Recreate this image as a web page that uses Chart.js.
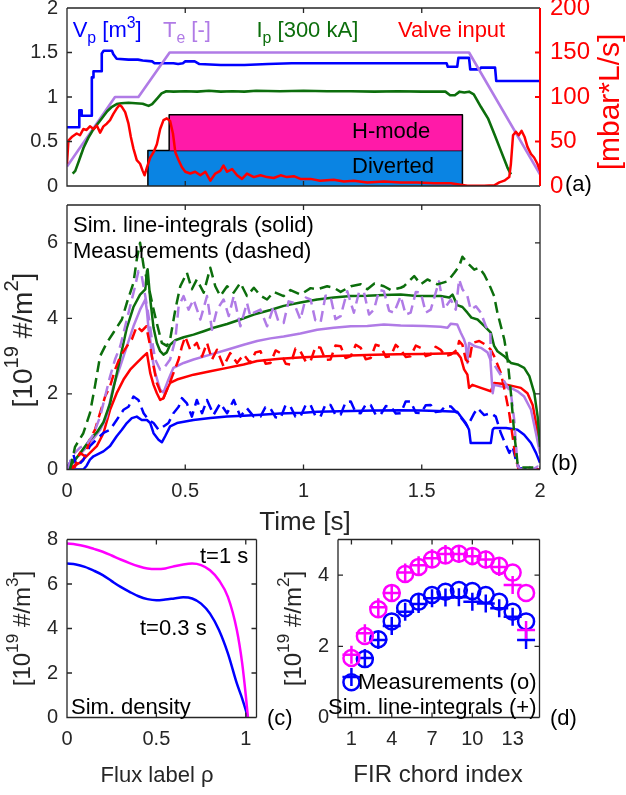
<!DOCTYPE html>
<html><head><meta charset="utf-8">
<script src="https://cdn.jsdelivr.net/npm/chart.js@4.4.1/dist/chart.umd.min.js"></script>
<style>
html,body{margin:0;padding:0;background:#fff;}
#wrap{position:relative;width:626px;height:795px;overflow:hidden;background:#fff;}
canvas{position:absolute;}
</style></head><body>
<div id="wrap">
<canvas id="ca" width="626" height="200" style="left:0;top:0"></canvas>
<canvas id="cb" width="626" height="345" style="left:0;top:195px"></canvas>
<canvas id="cc" width="300" height="275" style="left:0;top:520px"></canvas>
<canvas id="cd" width="356" height="275" style="left:270px;top:520px"></canvas>
</div>
<script>
// ---------------- DATA ----------------
// Panel (a): [time s, value]
const timeTicks = [0, 0.5, 1, 1.5, 2];
const leftTicksA = [0, 0.5, 1, 1.5, 2];
const valveTicks = [0, 50, 100, 150, 200];
const plasmaVolume = [[0,0.66],[0.052,0.66],[0.052,0.85],[0.062,0.85],[0.062,0.79],[0.105,0.79],[0.105,1.22],[0.112,1.22],[0.112,1.29],[0.147,1.29],[0.147,1.49],[0.155,1.52],[0.19,1.52],[0.196,1.48],[0.21,1.43],[0.26,1.42],[0.30,1.42],[0.32,1.41],[0.36,1.40],[0.37,1.38],[0.45,1.38],[0.47,1.37],[0.49,1.38],[0.50,1.40],[0.54,1.40],[0.56,1.37],[0.65,1.36],[0.75,1.36],[0.85,1.37],[0.95,1.38],[1.05,1.38],[1.15,1.38],[1.25,1.38],[1.35,1.38],[1.45,1.38],[1.55,1.38],[1.605,1.38],[1.61,1.34],[1.65,1.34],[1.655,1.44],[1.70,1.44],[1.705,1.31],[1.745,1.31],[1.75,1.33],[1.81,1.33],[1.815,1.18],[2.0,1.18]];
const electronTemp = [[0,0.22],[0.203,1.0],[0.302,1.0],[0.434,1.5],[1.70,1.5],[2.0,0.13]];
const plasmaCurrent = [[0.024,0.14],[0.035,0.17],[0.05,0.28],[0.07,0.43],[0.09,0.54],[0.11,0.63],[0.13,0.70],[0.15,0.77],[0.17,0.84],[0.19,0.89],[0.21,0.92],[0.23,0.93],[0.26,0.935],[0.29,0.93],[0.32,0.925],[0.345,0.90],[0.36,0.92],[0.38,0.98],[0.40,1.04],[0.42,1.065],[0.45,1.06],[0.50,1.065],[0.55,1.06],[0.60,1.07],[0.65,1.06],[0.70,1.065],[0.75,1.06],[0.80,1.07],[0.90,1.065],[1.00,1.07],[1.10,1.065],[1.20,1.065],[1.30,1.06],[1.40,1.065],[1.50,1.06],[1.60,1.06],[1.62,1.02],[1.64,1.02],[1.66,1.06],[1.68,1.05],[1.70,1.06],[1.72,1.03],[1.75,0.89],[1.78,0.76],[1.806,0.59],[1.834,0.40],[1.862,0.21],[1.877,0.13]];
const valveInput = [[0,25],[0.006,51],[0.02,55],[0.041,59],[0.055,57],[0.069,64],[0.083,63],[0.097,67],[0.112,64],[0.126,68],[0.14,60],[0.154,67],[0.168,70],[0.182,74],[0.196,81],[0.21,87],[0.222,91],[0.232,89],[0.246,83],[0.26,70],[0.27,55],[0.281,42],[0.295,29],[0.309,25],[0.32,17],[0.328,12],[0.338,21],[0.352,32],[0.366,38],[0.38,47],[0.394,64],[0.408,74],[0.422,76],[0.436,73],[0.448,59],[0.458,38],[0.472,29],[0.486,21],[0.5,16],[0.521,14],[0.542,16],[0.564,12],[0.585,16],[0.606,6],[0.627,14],[0.648,17],[0.662,23],[0.677,16],[0.698,19],[0.719,12],[0.74,8],[0.761,14],[0.79,10],[0.818,12],[0.846,10],[0.874,9],[0.903,12],[0.93,10],[0.959,11],[0.987,8],[1.03,8],[1.07,6],[1.128,7],[1.171,5],[1.213,6],[1.27,4],[1.34,5],[1.41,4],[1.48,4],[1.552,3],[1.623,3],[1.665,1.5],[1.693,0.4],[1.764,0.4],[1.807,0.8],[1.828,4],[1.849,6],[1.87,10],[1.877,25],[1.886,57],[1.898,61],[1.91,57],[1.922,62],[1.935,55],[1.947,44],[1.962,36],[1.975,32],[1.989,25],[2.0,17]];
const divertedInterval = [0.342, 1.672];
const divertedLevels = [0, 0.4];
const hModeInterval = [0.432, 1.672];
const hModeLevels = [0.4, 0.8];

// Panel (b): line-integrals [time s, 1e19 m^-2]
const lineIntTicks = [0, 2, 4, 6];
const simGreen = [[0,0],[0.034,0.25],[0.069,0.55],[0.097,0.79],[0.126,0.98],[0.154,1.25],[0.182,1.75],[0.203,2.33],[0.225,2.95],[0.253,3.75],[0.281,4.3],[0.309,4.63],[0.331,4.77],[0.338,5.25],[0.341,5.3],[0.352,4.5],[0.366,3.75],[0.38,3.35],[0.394,3.13],[0.408,3.04],[0.422,3.1],[0.436,3.3],[0.458,3.42],[0.493,3.5],[0.535,3.57],[0.578,3.66],[0.62,3.75],[0.677,3.85],[0.733,3.97],[0.79,4.1],[0.86,4.22],[0.916,4.33],[0.987,4.42],[1.058,4.5],[1.128,4.55],[1.2,4.59],[1.27,4.6],[1.34,4.62],[1.411,4.63],[1.468,4.6],[1.51,4.59],[1.58,4.59],[1.616,4.55],[1.63,4.63],[1.65,4.35],[1.672,4.3],[1.693,4.15],[1.71,4.02],[1.736,3.97],[1.764,3.8],[1.792,3.62],[1.806,3.27],[1.82,3.13],[1.849,3.0],[1.877,2.82],[1.905,2.78],[1.933,2.69],[1.955,2.47],[1.976,2.02],[1.99,1.4],[2.0,0.6]];
const measGreen = [[0.013,0],[0.034,0.6],[0.069,0.96],[0.097,1.49],[0.118,2.2],[0.14,3.0],[0.168,3.35],[0.196,3.62],[0.232,3.97],[0.253,4.41],[0.281,4.94],[0.295,5.56],[0.309,6.0],[0.324,5.38],[0.345,4.85],[0.366,4.23],[0.383,3.79],[0.401,3.35],[0.422,3.27],[0.436,3.44],[0.458,4.23],[0.479,4.85],[0.507,5.21],[0.528,4.77],[0.549,5.03],[0.578,4.68],[0.606,5.34],[0.627,4.85],[0.648,4.59],[0.677,4.85],[0.705,4.68],[0.733,4.94],[0.761,4.59],[0.79,4.81],[0.818,4.6],[0.846,4.5],[0.874,4.7],[0.916,4.59],[0.945,4.75],[0.987,4.63],[1.03,4.8],[1.058,4.77],[1.1,4.85],[1.128,4.81],[1.157,4.7],[1.2,4.85],[1.242,4.9],[1.27,4.77],[1.3,4.92],[1.34,4.85],[1.369,4.75],[1.411,4.81],[1.425,4.85],[1.468,5.12],[1.496,4.9],[1.524,5.03],[1.566,4.9],[1.609,4.98],[1.637,5.2],[1.658,5.38],[1.672,5.63],[1.693,5.47],[1.722,5.29],[1.743,5.34],[1.764,5.16],[1.785,4.9],[1.806,4.59],[1.82,4.15],[1.849,3.44],[1.863,2.91],[1.877,2.02],[1.891,0.96],[1.905,0.17],[1.92,0.05],[2.0,0.05]];
const simPurple = [[0,0.09],[0.055,0.4],[0.097,0.69],[0.14,1.05],[0.168,1.4],[0.196,2.2],[0.225,2.73],[0.253,3.26],[0.281,3.79],[0.309,4.23],[0.331,4.5],[0.338,4.2],[0.345,3.7],[0.352,3.44],[0.359,3.0],[0.373,2.56],[0.394,2.11],[0.408,2.04],[0.429,2.38],[0.45,2.69],[0.493,2.82],[0.535,2.91],[0.606,3.04],[0.677,3.17],[0.747,3.3],[0.804,3.4],[0.86,3.47],[0.916,3.52],[0.987,3.6],[1.058,3.7],[1.128,3.75],[1.2,3.79],[1.27,3.8],[1.34,3.84],[1.411,3.81],[1.51,3.8],[1.58,3.78],[1.609,3.75],[1.623,3.86],[1.65,3.84],[1.665,3.62],[1.679,3.44],[1.686,3.3],[1.693,2.82],[1.7,3.35],[1.722,3.27],[1.75,3.22],[1.778,3.1],[1.79,2.91],[1.8,2.02],[1.806,2.24],[1.834,2.2],[1.877,2.16],[1.905,2.07],[1.933,1.93],[1.962,1.58],[1.983,0.96],[2.0,0.42]];
const measPurple = [[0,0],[0.027,0.4],[0.055,0.58],[0.083,0.66],[0.112,0.93],[0.14,1.4],[0.161,1.93],[0.182,2.46],[0.203,2.91],[0.225,3.26],[0.246,3.79],[0.267,4.32],[0.288,4.85],[0.302,5.25],[0.316,5.12],[0.331,4.59],[0.345,4.06],[0.359,3.44],[0.373,2.91],[0.394,2.64],[0.415,2.73],[0.436,2.91],[0.458,3.44],[0.472,4.32],[0.493,4.59],[0.514,4.23],[0.535,4.5],[0.564,3.97],[0.592,4.59],[0.613,3.7],[0.634,4.23],[0.662,4.5],[0.684,4.06],[0.705,4.59],[0.733,3.79],[0.761,4.41],[0.775,4.06],[0.79,4.15],[0.818,4.23],[0.846,3.79],[0.874,4.32],[0.895,3.9],[0.916,3.88],[0.937,4.45],[0.959,4.41],[0.987,3.97],[1.01,4.55],[1.03,4.5],[1.05,3.95],[1.072,3.88],[1.093,4.6],[1.114,4.59],[1.135,3.98],[1.157,4.06],[1.185,4.72],[1.213,4.15],[1.235,4.7],[1.256,4.68],[1.277,4.1],[1.298,4.23],[1.32,4.75],[1.34,4.72],[1.362,4.2],[1.383,4.15],[1.411,4.59],[1.432,4.1],[1.453,4.15],[1.475,4.7],[1.496,4.68],[1.517,4.15],[1.538,4.23],[1.573,4.98],[1.594,4.24],[1.623,4.5],[1.644,4.23],[1.658,5.03],[1.672,4.77],[1.693,4.59],[1.707,4.23],[1.729,4.32],[1.75,4.15],[1.771,3.79],[1.79,3.62],[1.792,2.91],[1.834,2.5],[1.877,2.02],[1.891,1.31],[1.905,0.09],[1.919,0],[1.947,0.1],[1.969,0],[1.99,0.08],[2.0,0]];
const simRed = [[0,0],[0.055,0.18],[0.097,0.44],[0.126,0.62],[0.154,0.96],[0.182,1.58],[0.21,2.02],[0.239,2.38],[0.267,2.64],[0.295,2.82],[0.324,3.0],[0.338,3.08],[0.352,2.55],[0.366,2.24],[0.38,2.02],[0.394,1.84],[0.408,1.89],[0.422,2.11],[0.436,2.29],[0.465,2.38],[0.535,2.51],[0.606,2.6],[0.677,2.69],[0.747,2.78],[0.804,2.87],[0.9,2.93],[1.0,2.97],[1.1,3.0],[1.2,3.02],[1.3,3.04],[1.4,3.05],[1.5,3.06],[1.6,3.07],[1.65,3.08],[1.665,2.96],[1.679,2.65],[1.693,2.51],[1.7,2.16],[1.714,2.24],[1.75,2.16],[1.792,2.07],[1.806,2.29],[1.849,2.26],[1.891,2.2],[1.919,2.16],[1.947,2.02],[1.969,1.71],[1.987,1.09],[2.0,0.5]];
const measRed = [[0.013,0],[0.034,0.07],[0.055,0.44],[0.076,0.35],[0.097,0.8],[0.118,1.05],[0.14,1.5],[0.161,1.93],[0.182,2.2],[0.203,2.64],[0.225,2.99],[0.253,3.26],[0.274,3.44],[0.295,3.79],[0.316,3.66],[0.335,3.79],[0.352,3.26],[0.366,2.73],[0.38,2.29],[0.394,2.07],[0.408,1.89],[0.429,2.2],[0.45,2.55],[0.472,2.91],[0.486,3.26],[0.5,3.52],[0.521,3.17],[0.549,3.35],[0.571,2.99],[0.592,3.35],[0.613,2.91],[0.634,3.17],[0.662,2.73],[0.69,3.08],[0.719,2.82],[0.747,3.04],[0.775,2.82],[0.797,3.1],[0.818,3.13],[0.84,2.8],[0.86,2.82],[0.882,3.15],[0.903,3.08],[0.925,2.8],[0.945,2.78],[0.966,3.2],[0.987,3.13],[1.01,2.85],[1.03,2.87],[1.051,3.25],[1.072,3.22],[1.093,2.9],[1.114,2.91],[1.135,3.28],[1.157,3.26],[1.178,2.95],[1.2,3.0],[1.221,3.3],[1.242,3.22],[1.263,2.92],[1.284,2.95],[1.305,3.3],[1.326,3.26],[1.348,2.98],[1.369,3.0],[1.39,3.3],[1.411,3.17],[1.432,2.98],[1.453,3.0],[1.475,3.28],[1.496,3.22],[1.517,3.0],[1.538,3.04],[1.559,3.25],[1.58,3.17],[1.6,3.0],[1.623,3.04],[1.65,3.17],[1.658,3.4],[1.672,3.3],[1.686,2.91],[1.7,2.82],[1.714,3.35],[1.743,3.4],[1.771,3.3],[1.792,3.17],[1.806,3.0],[1.834,2.56],[1.856,1.93],[1.87,1.49],[1.884,0.88],[1.898,0.27],[1.91,0],[2.0,0]];
const simBlue = [[0,0],[0.069,0],[0.083,0.1],[0.097,0.26],[0.112,0.35],[0.154,0.48],[0.182,0.62],[0.21,0.88],[0.232,1.05],[0.253,1.23],[0.274,1.36],[0.295,1.4],[0.316,1.31],[0.338,1.31],[0.352,1.23],[0.366,0.96],[0.387,0.79],[0.401,0.72],[0.415,0.88],[0.436,1.14],[0.465,1.23],[0.535,1.31],[0.606,1.36],[0.677,1.4],[0.747,1.42],[0.804,1.44],[0.9,1.48],[1.0,1.5],[1.058,1.53],[1.2,1.55],[1.3,1.56],[1.411,1.57],[1.5,1.56],[1.6,1.54],[1.65,1.53],[1.665,1.4],[1.686,1.23],[1.7,1.05],[1.707,0.7],[1.75,0.7],[1.792,0.7],[1.8,1.05],[1.806,1.1],[1.856,1.1],[1.905,1.05],[1.933,0.92],[1.962,0.7],[1.983,0.44],[2.0,0.18]];
const measBlue = [[0,0],[0.027,0.4],[0.041,0.07],[0.069,0.25],[0.097,0.62],[0.126,0.8],[0.154,0.97],[0.182,1.05],[0.21,1.31],[0.239,1.58],[0.26,1.66],[0.281,1.93],[0.302,1.84],[0.324,1.49],[0.345,1.31],[0.366,1.23],[0.387,1.05],[0.408,1.14],[0.429,1.23],[0.45,1.49],[0.472,1.66],[0.486,1.89],[0.507,1.75],[0.528,1.4],[0.549,1.84],[0.571,1.49],[0.592,1.84],[0.62,1.45],[0.648,1.75],[0.677,1.49],[0.705,1.84],[0.733,1.4],[0.761,1.62],[0.79,1.4],[0.818,1.4],[0.839,1.65],[0.86,1.62],[0.882,1.38],[0.903,1.36],[0.924,1.7],[0.945,1.67],[0.966,1.4],[0.987,1.4],[1.01,1.72],[1.03,1.71],[1.05,1.42],[1.072,1.4],[1.093,1.72],[1.114,1.71],[1.135,1.45],[1.157,1.45],[1.178,1.78],[1.2,1.8],[1.221,1.5],[1.242,1.49],[1.263,1.72],[1.284,1.71],[1.305,1.45],[1.326,1.45],[1.348,1.68],[1.369,1.67],[1.39,1.48],[1.411,1.49],[1.432,1.8],[1.453,1.8],[1.475,1.5],[1.496,1.49],[1.517,1.7],[1.538,1.71],[1.559,1.52],[1.58,1.54],[1.6,1.68],[1.623,1.67],[1.65,1.49],[1.679,1.27],[1.693,1.14],[1.722,1.49],[1.736,1.62],[1.764,1.44],[1.792,1.49],[1.813,1.4],[1.834,0.97],[1.87,0.44],[1.884,0.61],[1.898,0.25],[1.912,0.04],[2.0,0]];

// Panel (c): density profiles
const rhoTicks = [0, 0.5, 1];
const densTicks = [0, 2, 4, 6, 8];
const rho = [0,0.05,0.1,0.15,0.2,0.25,0.3,0.35,0.4,0.45,0.5,0.55,0.6,0.65,0.7,0.75,0.8,0.85,0.9,0.95,0.98,1.0,1.012];
const densT03 = [6.92,6.88,6.77,6.6,6.4,6.13,5.87,5.65,5.45,5.32,5.27,5.3,5.35,5.4,5.35,5.12,4.67,3.93,2.88,1.53,0.85,0.33,0];
const densT1 = [7.82,7.78,7.7,7.58,7.45,7.28,7.1,6.94,6.8,6.7,6.67,6.7,6.8,6.88,6.92,6.85,6.62,6.17,5.42,3.93,2.43,1.0,0];

// Panel (d): FIR chords
const chordTicks = [1, 4, 7, 10, 13];
const chordYTicks = [0, 2, 4];
const chordIndex = [1,2,3,4,5,6,7,8,9,10,11,12,13,14];
const measT1 = [1.67,2.29,3.04,3.5,4.03,4.23,4.44,4.55,4.6,4.54,4.44,4.26,4.07,3.5];
const simT1 = [1.76,2.37,3.1,3.5,4.07,4.28,4.47,4.59,4.59,4.53,4.44,4.23,3.72,2.46];
const measT03 = [0.99,1.64,2.2,2.7,3.07,3.25,3.44,3.53,3.58,3.55,3.44,3.25,2.97,2.7];
const simT03 = [1.14,1.67,2.18,2.57,2.97,3.19,3.35,3.37,3.38,3.25,3.2,3.07,2.83,2.18];

// ---------------- STYLE / HELPERS ----------------
const FONT = '"Liberation Sans", Arial, Helvetica, sans-serif';
const TICK = '#262626';
const C = {blue:'#0000ff', red:'#ff0000', green:'#0c6e0c', purple:'#b07be6', magenta:'#ff00ff', pink:'#ff1aa8', divBlue:'#0a84e3'};
Chart.defaults.font.family = FONT;

const pts = arr => arr.map(p => ({x:p[0], y:p[1]}));
const zipXY = (xs, ys) => xs.map((x,i) => ({x, y:ys[i]}));
const rect = (iv, lv) => [{x:iv[0],y:lv[0]},{x:iv[0],y:lv[1]},{x:iv[1],y:lv[1]},{x:iv[1],y:lv[0]}];
const fixedTicks = vals => s => { s.ticks = vals.map(v => ({value:v})); };

function yAxis(min, max, vals, width, o) {
  o = o || {};
  return { type:'linear', position:o.position||'left', min, max, bounds:'data',
    afterBuildTicks: fixedTicks(vals),
    afterFit: s => { s.width = width; s.paddingTop=0; s.paddingBottom=0; s.paddingLeft=0; s.paddingRight=0; },
    grid:{display:false, drawTicks:false}, border:{display:false},
    ticks:{color:o.color||TICK, font:{size:o.size||20}, padding:(o.padding!==undefined?o.padding:9), autoSkip:false, maxRotation:0, callback:v=>String(v)} };
}
function xAxis(min, max, vals, height, o) {
  o = o || {};
  return { type:'linear', position:'bottom', min, max, bounds:'data', display:(o.display!==false),
    afterBuildTicks: fixedTicks(vals),
    afterFit: s => { if (o.display!==false) s.height = height; s.paddingTop=0; s.paddingBottom=0; s.paddingLeft=0; s.paddingRight=0; },
    grid:{display:false, drawTicks:false}, border:{display:false},
    ticks:{color:TICK, font:{size:20}, padding:10, autoSkip:false, maxRotation:0, callback:v=>String(v)} };
}

function rich(ctx, segs, x, y, o) {
  const fs = o.size || 22;
  const parts = segs.map(s => {
    const small = s.sub || s.sup;
    const sz = small ? fs*0.72 : fs;
    ctx.font = sz + 'px ' + FONT;
    return {t:s.t, sz, dy: s.sub ? fs*0.28 : (s.sup ? -fs*0.4 : 0), w: ctx.measureText(s.t).width};
  });
  const W = parts.reduce((a,p) => a + p.w, 0);
  ctx.save();
  ctx.translate(x, y);
  if (o.rot) ctx.rotate(o.rot);
  let cx = o.align === 'center' ? -W/2 : (o.align === 'right' ? -W : 0);
  ctx.fillStyle = o.color || '#000';
  ctx.textBaseline = o.baseline || 'alphabetic';
  ctx.textAlign = 'left';
  parts.forEach(p => { ctx.font = p.sz + 'px ' + FONT; ctx.fillText(p.t, cx, p.dy); cx += p.w; });
  ctx.restore();
}

function drawFrame(chart, cfg) {
  const ctx = chart.ctx, a = chart.chartArea, len = 5;
  const xs = chart.scales.x, ys = chart.scales.y;
  ctx.save();
  ctx.lineWidth = 1.3; ctx.strokeStyle = TICK;
  ctx.beginPath();
  cfg.xt.forEach(v => { const p = xs.getPixelForValue(v); if (p <= a.left+1 || p >= a.right-1) return;
    ctx.moveTo(p, a.bottom); ctx.lineTo(p, a.bottom-len); ctx.moveTo(p, a.top); ctx.lineTo(p, a.top+len); });
  cfg.yt.forEach(v => { const p = ys.getPixelForValue(v); if (p <= a.top+1 || p >= a.bottom-1) return;
    ctx.moveTo(a.left, p); ctx.lineTo(a.left+len, p);
    if (!cfg.y2t) { ctx.moveTo(a.right, p); ctx.lineTo(a.right-len, p); } });
  ctx.moveTo(a.left, a.top); ctx.lineTo(a.right, a.top);
  ctx.moveTo(a.left, a.top); ctx.lineTo(a.left, a.bottom); ctx.lineTo(a.right, a.bottom);
  if (!cfg.y2t) { ctx.moveTo(a.right, a.top); ctx.lineTo(a.right, a.bottom); }
  ctx.stroke();
  if (cfg.y2t) {
    const y2 = chart.scales.y2;
    ctx.strokeStyle = cfg.y2c; ctx.lineWidth = 2;
    ctx.beginPath(); ctx.moveTo(a.right, a.top); ctx.lineTo(a.right, a.bottom);
    cfg.y2t.forEach(v => { const p = y2.getPixelForValue(v); if (p <= a.top+1 || p >= a.bottom-1) return;
      ctx.moveTo(a.right, p); ctx.lineTo(a.right-len, p); });
    ctx.stroke();
  }
  ctx.restore();
}
function framePlugin(cfg) {
  return { id:'frame',
    afterDatasetsDraw(chart){ drawFrame(chart, cfg); },
    afterDraw(chart){ (cfg.texts||[]).forEach(t => rich(chart.ctx, t.segs, t.x - cfg.ox, t.y - cfg.oy, t)); } };
}
const baseOpts = (padding, scales) => ({
  responsive:false, animation:false, devicePixelRatio:1, events:[],
  plugins:{legend:{display:false}, tooltip:{enabled:false}},
  elements:{point:{radius:0}, line:{tension:0, borderJoinStyle:'round', borderCapStyle:'butt'}},
  layout:{padding}, scales });
const S = t => [{t}];

// ---------------- PANEL (a) ----------------
new Chart(document.getElementById('ca'), {
  type:'line',
  data:{ datasets:[
    {data:pts(valveInput), yAxisID:'y2', borderColor:C.red, borderWidth:2.5},
    {data:pts(plasmaCurrent), borderColor:C.green, borderWidth:2.6},
    {data:pts(electronTemp), borderColor:C.purple, borderWidth:2.6},
    {data:pts(plasmaVolume), borderColor:C.blue, borderWidth:2.6},
    {data:rect(hModeInterval, hModeLevels), fill:{value:hModeLevels[0]}, backgroundColor:C.pink, borderColor:'#000', borderWidth:1.5},
    {data:rect(divertedInterval, divertedLevels), fill:'origin', backgroundColor:C.divBlue, borderColor:'#000', borderWidth:1.5}
  ]},
  options: baseOpts({top:8, bottom:14, left:0, right:0}, {
    x: xAxis(0, 2, timeTicks, 0, {display:false}),
    y: yAxis(0, 2, leftTicksA, 67),
    y2: yAxis(0, 200, valveTicks, 86, {position:'right', color:C.red, padding:10, size:24})
  }),
  plugins:[framePlugin({ox:0, oy:0, xt:timeTicks, yt:leftTicksA, y2t:valveTicks, y2c:C.red, texts:[
    {segs:[{t:'V'},{t:'p',sub:1},{t:' [m'},{t:'3',sup:1},{t:']'}], x:72.7, y:37, color:C.blue},
    {segs:[{t:'T'},{t:'e',sub:1},{t:' [-]'}], x:163, y:37, color:C.purple},
    {segs:[{t:'I'},{t:'p',sub:1},{t:' [300 kA]'}], x:256.5, y:37, color:C.green},
    {segs:S('Valve input'), x:398, y:37, color:C.red},
    {segs:S('[mbar*L/s]'), x:611, y:102, color:C.red, rot:-Math.PI/2, align:'center', baseline:'middle', size:30},
    {segs:S('H-mode'), x:352, y:138},
    {segs:S('Diverted'), x:352, y:173},
    {segs:S('(a)'), x:565, y:191}
  ]})]
});

// ---------------- PANEL (b) ----------------
const dashed = [11, 6];
new Chart(document.getElementById('cb'), {
  type:'line',
  data:{ datasets:[
    {data:pts(measGreen), borderColor:C.green, borderWidth:2.5, borderDash:dashed},
    {data:pts(measPurple), borderColor:C.purple, borderWidth:2.5, borderDash:dashed},
    {data:pts(measRed), borderColor:C.red, borderWidth:2.5, borderDash:dashed},
    {data:pts(measBlue), borderColor:C.blue, borderWidth:2.5, borderDash:dashed},
    {data:pts(simGreen), borderColor:C.green, borderWidth:2.5},
    {data:pts(simPurple), borderColor:C.purple, borderWidth:2.5},
    {data:pts(simRed), borderColor:C.red, borderWidth:2.5},
    {data:pts(simBlue), borderColor:C.blue, borderWidth:2.5}
  ]},
  options: baseOpts({top:10, bottom:0, left:0, right:86}, {
    x: xAxis(0, 2, timeTicks, 70.5),
    y: yAxis(0, 7, lineIntTicks, 67)
  }),
  plugins:[framePlugin({ox:0, oy:195, xt:timeTicks, yt:lineIntTicks, texts:[
    {segs:S('Sim. line-integrals (solid)'), x:73, y:232},
    {segs:S('Measurements (dashed)'), x:73, y:258},
    {segs:[{t:'[10'},{t:'19',sup:1},{t:' #/m'},{t:'2',sup:1},{t:']'}], x:24, y:340, rot:-Math.PI/2, align:'center', baseline:'middle', size:28, color:TICK},
    {segs:S('Time [s]'), x:305, y:530, align:'center', size:26, color:TICK},
    {segs:S('(b)'), x:551, y:470}
  ]})]
});

// ---------------- PANEL (c) ----------------
new Chart(document.getElementById('cc'), {
  type:'line',
  data:{ datasets:[
    {data:zipXY(rho, densT1), borderColor:C.magenta, borderWidth:2.5, cubicInterpolationMode:'monotone'},
    {data:zipXY(rho, densT03), borderColor:C.blue, borderWidth:2.5, cubicInterpolationMode:'monotone'}
  ]},
  options: baseOpts({top:19.5, bottom:0, left:0, right:43.5}, {
    x: xAxis(0, 1.06, rhoTicks, 77.5),
    y: yAxis(0, 8, densTicks, 67)
  }),
  plugins:[framePlugin({ox:0, oy:520, xt:rhoTicks, yt:densTicks, texts:[
    {segs:[{t:'[10'},{t:'19',sup:1},{t:' #/m'},{t:'3',sup:1},{t:']'}], x:23, y:628.5, rot:-Math.PI/2, align:'center', baseline:'middle', size:24, color:TICK},
    {segs:S('t=1 s'), x:200, y:563},
    {segs:S('t=0.3 s'), x:140, y:635},
    {segs:S('Sim. density'), x:71, y:714},
    {segs:S('Flux label \u03c1'), x:157, y:782, align:'center', size:22, color:TICK},
    {segs:S('(c)'), x:267, y:725}
  ]})]
});

// ---------------- PANEL (d) ----------------
new Chart(document.getElementById('cd'), {
  type:'line',
  data:{ datasets:[
    {data:zipXY(chordIndex, simT1), showLine:false, pointStyle:'cross', pointRadius:9, pointBorderWidth:2.5, borderColor:C.magenta, backgroundColor:'transparent'},
    {data:zipXY(chordIndex, measT1), showLine:false, pointStyle:'circle', pointRadius:8, pointBorderWidth:2.5, borderColor:C.magenta, backgroundColor:'transparent'},
    {data:zipXY(chordIndex, simT03), showLine:false, pointStyle:'cross', pointRadius:9, pointBorderWidth:2.5, borderColor:C.blue, backgroundColor:'transparent'},
    {data:zipXY(chordIndex, measT03), showLine:false, pointStyle:'circle', pointRadius:8, pointBorderWidth:2.5, borderColor:C.blue, backgroundColor:'transparent'}
  ]},
  options: baseOpts({top:19.5, bottom:0, left:0, right:86.5}, {
    x: xAxis(0, 15, chordTicks, 77.5),
    y: yAxis(0, 5, chordYTicks, 68)
  }),
  plugins:[framePlugin({ox:270, oy:520, xt:chordTicks, yt:chordYTicks, texts:[
    {segs:[{t:'[10'},{t:'19',sup:1},{t:' #/m'},{t:'2',sup:1},{t:']'}], x:294, y:628.5, rot:-Math.PI/2, align:'center', baseline:'middle', size:24, color:TICK},
    {segs:S('Measurements (o)'), x:358, y:689},
    {segs:S('Sim. line-integrals (+)'), x:328, y:714},
    {segs:S('FIR chord index'), x:438, y:782, align:'center', size:24, color:TICK},
    {segs:S('(d)'), x:550, y:725}
  ]})]
});
</script>
</body></html>
